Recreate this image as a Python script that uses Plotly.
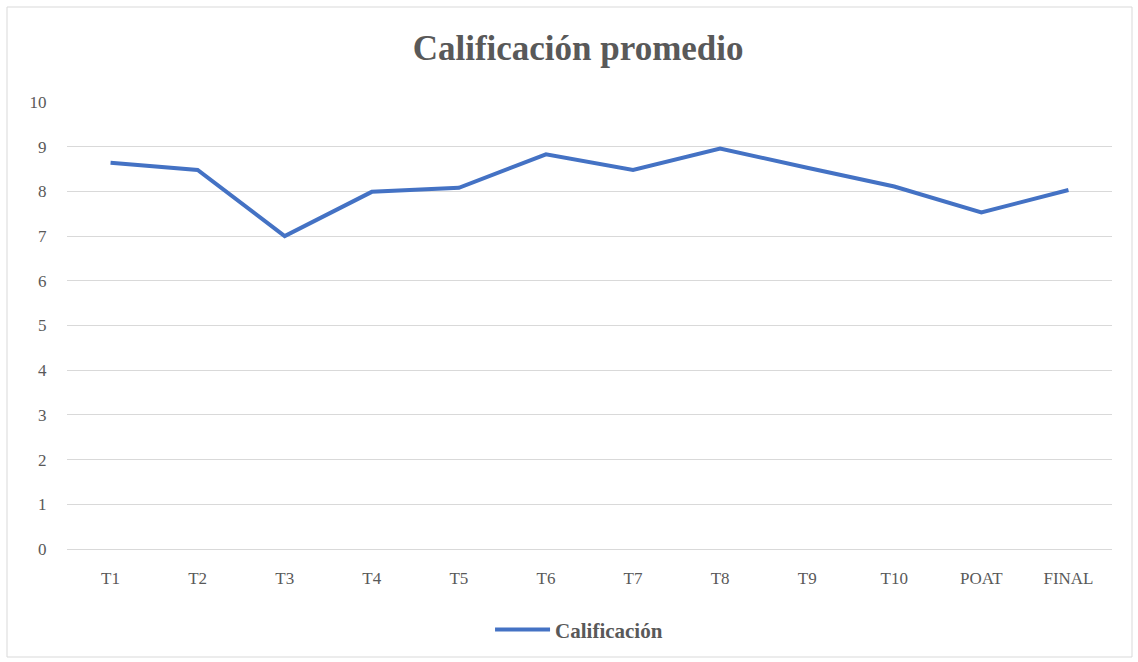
import plotly.graph_objects as go

categories = ["T1", "T2", "T3", "T4", "T5", "T6", "T7", "T8", "T9", "T10", "POAT", "FINAL"]
calificacion = [8.64, 8.48, 7.0, 7.99, 8.08, 8.83, 8.48, 8.96, 8.53, 8.11, 7.53, 8.03]

serif = "Liberation Serif"
gray = "#595959"

fig = go.Figure()
fig.add_trace(go.Scatter(
    x=categories, y=calificacion, mode="lines", name="<b>Calificación</b>",
    line=dict(color="#4472C4", width=4),
))

fig.update_layout(
    width=1138, height=662,
    margin=dict(l=67, r=26, t=102, b=113),
    paper_bgcolor="white", plot_bgcolor="white",
    title=dict(text="<b>Calificación promedio</b>", x=0.508, xanchor="center",
               y=1 - 48 / 662, yanchor="middle", yref="container",
               font=dict(family=serif, size=35, color=gray)),
    font=dict(family=serif, color=gray, size=17),
    showlegend=True,
    legend=dict(orientation="h", x=0.49, xanchor="center", y=-0.181, yanchor="middle",
                itemwidth=55,
                font=dict(family=serif, size=21, color=gray)),
    xaxis=dict(type="category", range=[-0.5, len(categories) - 0.5],
               showgrid=False, showline=False, zeroline=False,
               ticks="outside", ticklen=14, tickcolor="rgba(0,0,0,0)",
               tickfont=dict(family=serif, size=17, color=gray)),
    yaxis=dict(range=[0, 10], dtick=1, showgrid=True, gridcolor="#D9D9D9", gridwidth=1,
               zeroline=True, zerolinecolor="#D9D9D9", zerolinewidth=1, showline=False,
               ticks="outside", ticklen=16, tickcolor="rgba(0,0,0,0)",
               tickfont=dict(family=serif, size=17, color=gray)),
    shapes=[dict(type="rect", xref="paper", yref="paper",
                 x0=-60 / 1045, x1=(1132 - 67) / 1045,
                 y0=(549 - 657) / 447, y1=(549 - 7) / 447,
                 line=dict(color="#D9D9D9", width=1), fillcolor="rgba(0,0,0,0)", layer="below")],
)

fig.write_html("out.html", config={"displayModeBar": False},
               post_script="document.body.style.margin='0px';")
